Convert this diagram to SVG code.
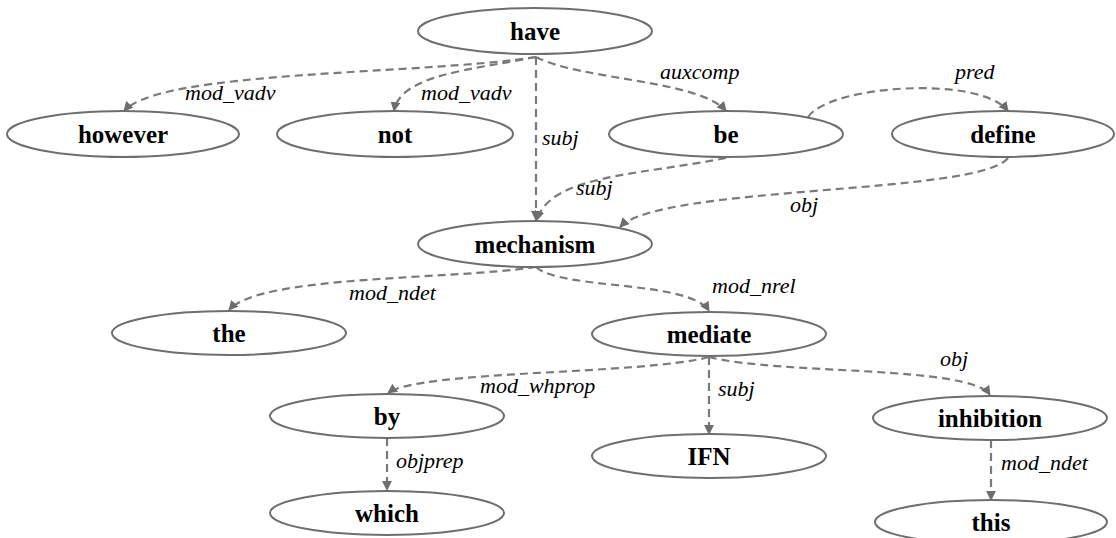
<svg xmlns="http://www.w3.org/2000/svg" width="1116" height="538" viewBox="0 0 1116 538">
  <style>
    .node ellipse { fill: #ffffff; stroke: #6e6e6e; stroke-width: 2; }
    .node text { font-family: "Liberation Serif", "Times New Roman", serif; font-weight: bold; font-size: 25px; fill: #000; text-anchor: middle; }
    .edge { fill: none; stroke: #7a7a7a; stroke-width: 2.2; stroke-dasharray: 8 5; marker-end: url(#arrow); }
    .lbl { font-family: "Liberation Serif", "Times New Roman", serif; font-style: italic; font-size: 22px; fill: #000; }
  </style>
  <defs>
    <marker id="arrow" viewBox="0 0 10 10" refX="9" refY="5" markerWidth="4.5" markerHeight="4.5" orient="auto" markerUnits="strokeWidth">
      <path d="M0,0 L10,5 L0,10 z" fill="#6e6e6e"/>
    </marker>
  </defs>
  <rect width="1116" height="538" fill="#ffffff"/>

  <!-- dependency arcs -->
  <g id="connectors">
    <path class="edge" d="M536,57 C420,75 160,70 124,111"/>
    <path class="edge" d="M536,57 C470,70 400,75 394,111"/>
    <path class="edge" d="M536,57 L536,220"/>
    <path class="edge" d="M536,57 C580,80 700,80 726,111"/>
    <path class="edge" d="M808,117 C830,85 980,75 1008,111"/>
    <path class="edge" d="M726,158 C640,175 550,175 537,220"/>
    <path class="edge" d="M1008,158 C980,195 660,185 620,227"/>
    <path class="edge" d="M536,267 C450,280 260,275 229,310"/>
    <path class="edge" d="M536,267 C560,290 690,280 709,311"/>
    <path class="edge" d="M709,357 C640,375 420,370 388,393"/>
    <path class="edge" d="M709,357 L709,434"/>
    <path class="edge" d="M709,357 C780,375 970,365 990,395"/>
    <path class="edge" d="M387,438 L387,490"/>
    <path class="edge" d="M991,440 L991,500"/>

    <text class="lbl" x="185" y="100">mod_vadv</text>
    <text class="lbl" x="421" y="100">mod_vadv</text>
    <text class="lbl" x="542" y="145">subj</text>
    <text class="lbl" x="660" y="79">auxcomp</text>
    <text class="lbl" x="955" y="79">pred</text>
    <text class="lbl" x="576" y="195">subj</text>
    <text class="lbl" x="790" y="212">obj</text>
    <text class="lbl" x="349" y="300">mod_ndet</text>
    <text class="lbl" x="712" y="293">mod_nrel</text>
    <text class="lbl" x="480" y="393">mod_whprop</text>
    <text class="lbl" x="718" y="396">subj</text>
    <text class="lbl" x="940" y="366">obj</text>
    <text class="lbl" x="396" y="468">objprep</text>
    <text class="lbl" x="1001" y="470">mod_ndet</text>
  </g>

  <g id="have" class="node"><ellipse cx="535" cy="31" rx="117" ry="23"/><text x="535" y="40">have</text></g>
  <g id="however" class="node"><ellipse cx="123" cy="134" rx="116" ry="23"/><text x="123" y="143">however</text></g>
  <g id="not" class="node"><ellipse cx="395" cy="134" rx="118" ry="23"/><text x="395" y="143">not</text></g>
  <g id="be" class="node"><ellipse cx="726" cy="134" rx="117" ry="23"/><text x="726" y="143">be</text></g>
  <g id="define" class="node"><ellipse cx="1003" cy="134" rx="111" ry="23"/><text x="1003" y="143">define</text></g>
  <g id="mechanism" class="node"><ellipse cx="535" cy="244" rx="117" ry="23"/><text x="535" y="253">mechanism</text></g>
  <g id="the" class="node"><ellipse cx="229" cy="333" rx="117" ry="22"/><text x="229" y="342">the</text></g>
  <g id="mediate" class="node"><ellipse cx="709" cy="334" rx="117" ry="22"/><text x="709" y="343">mediate</text></g>
  <g id="by" class="node"><ellipse cx="387" cy="416" rx="117" ry="22"/><text x="387" y="425">by</text></g>
  <g id="IFN" class="node"><ellipse cx="709" cy="456" rx="117" ry="22"/><text x="709" y="465">IFN</text></g>
  <g id="inhibition" class="node"><ellipse cx="990" cy="418" rx="117" ry="22"/><text x="990" y="427">inhibition</text></g>
  <g id="which" class="node"><ellipse cx="387" cy="513" rx="117" ry="22"/><text x="387" y="522">which</text></g>
  <g id="this" class="node"><ellipse cx="991" cy="522" rx="116" ry="22"/><text x="991" y="531">this</text></g>
</svg>
